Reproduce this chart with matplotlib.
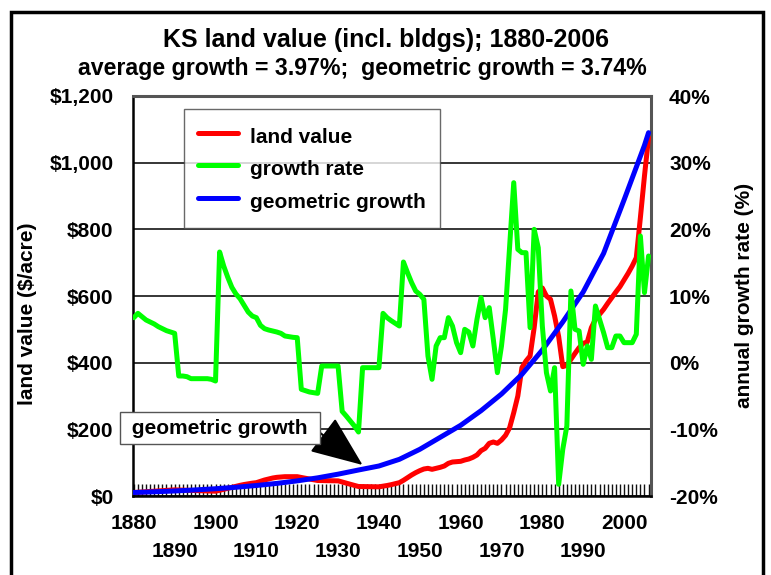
import matplotlib
matplotlib.use('Agg')
import matplotlib.pyplot as plt
from matplotlib.patches import Rectangle

plt.rcParams['font.family'] = ['Liberation Sans', 'DejaVu Sans']
plt.rcParams['font.weight'] = 'bold'

# ---------------- data ----------------
years = list(range(1880, 2007))

land_value = [
    10.5, 11.3, 12.0, 12.8, 13.6, 14.4, 15.2, 16.0, 16.8, 17.6,      # 1880s
    18.4, 18.0, 17.6, 17.2, 16.8, 16.4, 16.0, 15.6, 15.2, 14.8,      # 1890s
    14.4, 17.0, 20.0, 23.0, 26.0, 29.0, 32.0, 34.5, 36.5, 38.5,      # 1900s
    40.0, 44.0, 48.0, 51.0, 54.0, 56.0, 57.0, 58.0, 58.0, 58.0,      # 1910s
    58.0, 55.6, 53.3, 51.0, 48.7, 46.5, 46.3, 46.0, 45.8, 45.6,      # 1920s
    45.4, 42.1, 38.6, 35.2, 31.8, 28.5, 28.3, 28.1, 27.9, 27.7,      # 1930s
    27.5, 29.5, 31.5, 34.0, 37.0, 40.0, 47.0, 55.0, 63.0, 70.0,      # 1940s
    76.0, 81.0, 83.0, 80.0, 83.0, 86.0, 90.0, 98.0, 102.0, 103.0,    # 1950s
    104.0, 108.0, 111.0, 116.0, 123.0, 136.0, 143.0, 158.0, 162.0, 158.0,  # 1960s
    168.0, 182.0, 205.0, 250.0, 300.0, 385.0, 405.0, 420.0, 505.0, 612.0,  # 1970s
    624.0, 600.0, 590.0, 540.0, 478.0, 388.0, 392.0, 410.0, 428.0, 445.0,  # 1980s
    458.0, 462.0, 505.0, 530.0, 545.0, 560.0, 578.0, 595.0, 612.0, 628.0,  # 1990s
    648.0, 668.0, 690.0, 715.0, 835.0, 960.0, 1075.0,                      # 2000-2006
]

growth_rate = [
    6.75, 7.4, 6.9, 6.4, 6.1, 5.8, 5.4, 5.1, 4.8, 4.6,               # 1880s
    4.4, -2.0, -2.0, -2.1, -2.4, -2.4, -2.4, -2.4, -2.4, -2.5,       # 1890s
    -2.75, 16.6, 14.5, 12.8, 11.3, 10.3, 9.6, 8.6, 7.6, 7.0,         # 1900s
    6.75, 5.6, 5.1, 4.9, 4.75, 4.6, 4.4, 4.0, 3.9, 3.8,              # 1910s
    3.75, -4.0, -4.2, -4.4, -4.5, -4.6, -0.5, -0.5, -0.5, -0.5,      # 1920s
    -0.5, -7.3, -8.0, -8.75, -9.5, -10.4, -0.75, -0.75, -0.75, -0.75,  # 1930s
    -0.75, 7.4, 6.75, 6.3, 5.9, 5.5, 15.1, 13.5, 12.0, 10.75,        # 1940s
    10.25, 9.5, 1.0, -2.5, 2.5, 3.75, 3.75, 6.75, 5.5, 3.0,          # 1950s
    1.5, 5.0, 4.6, 2.5, 6.5, 9.75, 6.75, 8.25, 3.5, -1.5,            # 1960s
    2.5, 8.0, 17.5, 27.0, 17.0, 16.5, 16.5, 5.25, 20.0, 17.25,       # 1970s
    5.5, -1.5, -4.25, -0.75, -18.25, -13.0, -9.5, 10.75, 5.0, 4.75,  # 1980s
    -0.25, 2.5, 0.5, 8.5, 6.5, 4.5, 2.25, 2.25, 4.0, 4.0,            # 1990s
    3.0, 3.0, 3.0, 4.25, 19.0, 10.5, 16.0,                           # 2000-2006
]

geo_years = [1880, 1885, 1890, 1895, 1900, 1905, 1910, 1915, 1920, 1925,
             1930, 1935, 1940, 1945, 1950, 1955, 1960, 1965, 1970, 1975,
             1980, 1985, 1990, 1995, 2000, 2005, 2006]
geo_value = [10.5, 12.6, 15.1, 18.2, 21.8, 26.2, 31.5, 37.8, 45.4, 54.5,
             65.5, 78.0, 90.0, 110.0, 140.0, 176.0, 212.0, 256.0, 306.0, 365.0,
             438.0, 522.0, 612.0, 728.0, 888.0, 1052.0, 1090.0]

x_tick_years_upper = [1880, 1900, 1920, 1940, 1960, 1980, 2000]
x_tick_years_lower = [1890, 1910, 1930, 1950, 1970, 1990]
left_ticks = [0, 200, 400, 600, 800, 1000, 1200]
left_tick_labels = ['$0', '$200', '$400', '$600', '$800', '$1,000', '$1,200']
right_ticks = [-20, -10, 0, 10, 20, 30, 40]
right_tick_labels = ['-20%', '-10%', '0%', '10%', '20%', '30%', '40%']

title = 'KS land value (incl. bldgs); 1880-2006'
subtitle = 'average growth = 3.97%;  geometric growth = 3.74%'
series_names = ['land value', 'growth rate', 'geometric growth']
annotation_text = 'geometric growth'

# ---------------- figure ----------------
W, H = 771, 575
fig = plt.figure(figsize=(W / 100, H / 100), dpi=100)
fig.patch.set_facecolor('white')

# outer frame
fig.patches.append(Rectangle((11 / W, -0.05), (763 - 11) / W, 1 - 12 / H + 0.05,
                             transform=fig.transFigure, fill=False,
                             edgecolor='black', linewidth=2.5))

L, R, T, B = 133, 651, 96, 496
ax = fig.add_axes([L / W, 1 - B / H, (R - L) / W, (B - T) / H])
ax2 = ax.twinx()

FS = 15
red, green, blue = '#FF0000', '#00FF00', '#0000FF'

l1, = ax.plot(years, land_value, color=red, lw=3.6, solid_capstyle='round',
              solid_joinstyle='round', zorder=3)
l3, = ax.plot(geo_years, geo_value, color=blue, lw=3.6, solid_capstyle='round',
              solid_joinstyle='round', zorder=4)
l2, = ax2.plot(years, growth_rate, color=green, lw=3.6, solid_capstyle='round',
               solid_joinstyle='round', zorder=3)

ax.set_xlim(1879.8, 2006.6)
ax.set_ylim(0, 1200)
ax2.set_ylim(-20, 40)

ax.set_yticks(left_ticks)
ax.set_yticklabels(left_tick_labels, fontsize=FS, fontweight='bold')
ax2.set_yticks(right_ticks)
ax2.set_yticklabels(right_tick_labels, fontsize=FS, fontweight='bold')
ax.tick_params(axis='y', length=0, pad=14)
ax2.tick_params(axis='y', length=0, pad=13)

ax.yaxis.grid(True, color='black', lw=1.1)
ax.set_axisbelow(True)

# x axis: upper row of labels + yearly ticks
ax.set_xticks(x_tick_years_upper)
ax.set_xticklabels([str(y) for y in x_tick_years_upper], fontsize=FS, fontweight='bold')
ax.set_xticks(years, minor=True)
ax.tick_params(axis='x', which='both', direction='in', length=9, width=1.0,
               color='#111111', pad=13)

# lower row of labels
sec = ax.secondary_xaxis('bottom')
sec.set_xticks(x_tick_years_lower)
sec.set_xticklabels([str(y) for y in x_tick_years_lower], fontsize=FS, fontweight='bold')
sec.tick_params(axis='x', length=0, pad=33)
sec.spines['bottom'].set_visible(False)

for sp in ['left', 'bottom']:
    ax.spines[sp].set_linewidth(1.8)
    ax.spines[sp].set_color('black')
for sp in ['top', 'right']:
    ax.spines[sp].set_linewidth(2.2)
    ax.spines[sp].set_color('#555555')
for sp in ax2.spines.values():
    sp.set_visible(False)

ax.set_ylabel('land value ($/acre)', fontsize=FS, fontweight='bold')
ax.yaxis.set_label_coords((37 - L) / (R - L), (B - 314) / (B - T))
ax2.set_ylabel('annual growth rate (%)', fontsize=FS, fontweight='bold')
ax2.yaxis.set_label_coords((735 - L) / (R - L), (B - 295) / (B - T))

fig.text(386 / W, 1 - 40 / H, title, ha='center', va='center', fontsize=18, fontweight='bold')
fig.text(362 / W, 1 - 68 / H, subtitle, ha='center', va='center', fontsize=16.7, fontweight='bold')

leg = ax2.legend([l1, l2, l3], series_names, loc='upper left',
                 bbox_to_anchor=((184 - L) / (R - L), (B - 109) / (B - T)),
                 borderaxespad=0, fontsize=FS, frameon=True, fancybox=False,
                 handlelength=1.9, handletextpad=0.6, labelspacing=0.3,
                 handleheight=1.55, borderpad=0.68)
leg.get_frame().set_edgecolor('#444444')
leg.get_frame().set_linewidth(1.0)
for t in leg.get_texts():
    t.set_fontweight('bold')

ax2.annotate(' ' + annotation_text + ' ', xy=(1936, 93 / 1200 * 60 - 20), xycoords='data',
             xytext=(220 / W, 1 - 428 / H), textcoords='figure fraction',
             ha='center', va='center', fontsize=FS, fontweight='bold',
             bbox=dict(boxstyle='square,pad=0.3', fc='white', ec='#555555', lw=1.0),
             arrowprops=dict(arrowstyle='-|>,head_length=1.1,head_width=0.45',
                             mutation_scale=30, color='black', lw=1.5,
                             shrinkA=0, shrinkB=0, relpos=(1.0, 0.5)),
             zorder=10)

fig.savefig('out.png', dpi=100, facecolor='white')
